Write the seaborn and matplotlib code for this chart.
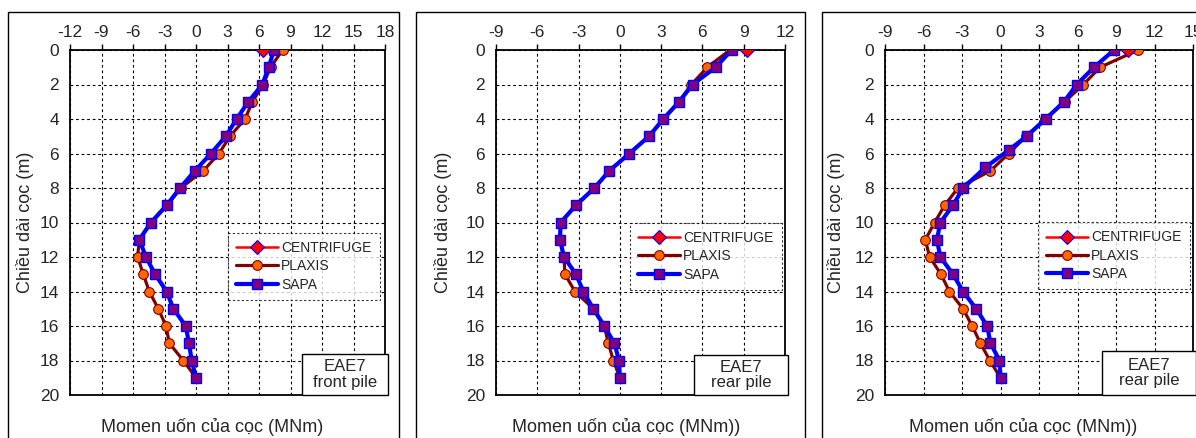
import matplotlib
matplotlib.use("Agg")
import matplotlib.pyplot as plt
from matplotlib.patches import Rectangle
import seaborn as sns
import numpy as np

# ---------------- data ----------------
depth = list(range(0, 20))
depth_sapa_p3 = [0, 1, 2, 3, 4, 5, 5.8, 6.8, 8, 9, 10, 11, 12, 13, 14, 15, 16, 17, 18, 19]
depth_centrifuge = [0]

# Panel 1 : front pile
p1_centrifuge = [6.4]
p1_plaxis = [8.25, 7.1, 6.4, 5.37, 4.67, 3.24, 2.19, 0.7, -1.45, -2.75, -4.3, -5.4,
             -5.56, -5.02, -4.45, -3.59, -2.86, -2.54, -1.21, 0.0]
p1_sapa = [7.43, 6.92, 6.32, 4.98, 3.87, 2.83, 1.43, -0.1, -1.52, -2.79, -4.29, -5.4,
           -4.76, -3.9, -2.79, -2.16, -0.98, -0.67, -0.41, 0.0]

# Panel 2 : rear pile
p2_centrifuge = [9.22]
p2_plaxis = [8.0, 6.36, 5.2, 4.3, 3.16, 2.12, 0.69, -0.76, -1.85, -3.19, -4.3, -4.35,
             -4.06, -3.99, -3.26, -1.93, -1.13, -0.84, -0.47, 0.0]
p2_sapa = [8.13, 6.96, 5.29, 4.3, 3.16, 2.12, 0.69, -0.76, -1.85, -3.19, -4.3, -4.35,
           -4.06, -3.19, -2.65, -1.93, -1.13, -0.4, -0.06, 0.0]

# Panel 3 : rear pile
p3_centrifuge = [9.95]
p3_plaxis = [10.73, 7.76, 6.46, 5.0, 3.5, 2.0, 0.65, -0.78, -3.31, -4.35, -5.13, -5.86,
             -5.52, -4.64, -3.98, -2.92, -2.21, -1.56, -0.83, 0.0]
p3_sapa = [8.85, 7.29, 5.94, 4.95, 3.52, 2.03, 0.65, -1.17, -2.92, -3.7, -4.69, -4.95,
           -4.69, -3.7, -2.92, -1.9, -1.04, -0.78, -0.08, 0.0]

x_ticks_p1 = [-12, -9, -6, -3, 0, 3, 6, 9, 12, 15, 18]
x_ticks_p2 = [-9, -6, -3, 0, 3, 6, 9, 12]
x_ticks_p3 = [-9, -6, -3, 0, 3, 6, 9, 12, 15]
y_ticks = [0, 2, 4, 6, 8, 10, 12, 14, 16, 18, 20]

series_names = ["CENTRIFUGE", "PLAXIS", "SAPA"]
ylabel = "Chiều dài cọc (m)"
xlabels = ["Momen uốn của cọc (MNm)", "Momen uốn của cọc (MNm))", "Momen uốn của cọc (MNm))"]
box_texts = ["EAE7\nfront pile", "EAE7\nrear pile", "EAE7\nrear pile"]

# ---------------- style ----------------
sns.set_style("white")
plt.rcParams["font.family"] = ["Liberation Sans", "DejaVu Sans"]
plt.rcParams["axes.unicode_minus"] = False

W, H = 1196, 438
fig = plt.figure(figsize=(W / 100, H / 100), dpi=100)

def fx(px):
    return px / W

def fy(py):
    return 1 - py / H

# axes pixel geometry: (left, right, top, bottom)
geoms = [(70, 385, 50, 395), (496, 785, 50, 395), (885, 1193, 50, 395)]
frames = [(8, 399), (416, 805), (822, 1210)]
panels = [
    (p1_centrifuge, p1_plaxis, p1_sapa, depth, x_ticks_p1, (-12, 18)),
    (p2_centrifuge, p2_plaxis, p2_sapa, depth, x_ticks_p2, (-9, 12)),
    (p3_centrifuge, p3_plaxis, p3_sapa, depth_sapa_p3, x_ticks_p3, (-9, 15)),
]
ylabel_x = [-0.114, -0.152, -0.130]
legend_anchor = [(0.502, 0.47), (0.464, 0.499), (0.497, 0.501)]
box_x0 = [0.737, 0.685, 0.705]
box_top = [0.119, 0.116, 0.128]

for i, (geom, frame, panel) in enumerate(zip(geoms, frames, panels)):
    # outer frame around the sub-chart
    fig.patches.append(Rectangle((fx(frame[0]), -0.1), fx(frame[1] - frame[0]), fy(12) + 0.1,
                                 transform=fig.transFigure, fill=False, ec="black", lw=1.0))
    l, r, t, b = geom
    ax = fig.add_axes([fx(l), fy(b), fx(r - l), (b - t) / H])
    cen, plx, sap, dsap, xt, xl = panel

    sns.lineplot(x=plx, y=depth, sort=False, estimator=None, ax=ax, color="#800000", lw=2.3,
                 marker="o", ms=7, mfc="#FF6600", mec="#800000", mew=0.8,
                 label=series_names[1], zorder=3)
    sns.lineplot(x=sap, y=dsap, sort=False, estimator=None, ax=ax, color="#0000FF", lw=3.0,
                 marker="s", ms=6.5, mfc="#800080", mec="#0000FF", mew=1.0,
                 label=series_names[2], zorder=4)
    sns.lineplot(x=cen, y=depth_centrifuge, sort=False, estimator=None, ax=ax, color="#FF0000",
                 lw=1.8, marker="D", ms=7, mfc="#FF0000", mec="#0000FF", mew=0.8,
                 label=series_names[0], zorder=5)

    ax.set_xlim(*xl)
    ax.set_ylim(20, 0)
    ax.set_xticks(xt)
    ax.set_yticks(y_ticks)
    ax.xaxis.tick_top()
    ax.tick_params(axis="both", direction="out", length=4, width=1, color="black",
                   labelsize=12.5, pad=4)
    ax.tick_params(axis="x", pad=3)
    ax.grid(True, color="black", linestyle=(0, (2.5, 2.5)), lw=0.8)
    for s in ax.spines.values():
        s.set_color("black")
        s.set_linewidth(1.3)
        s.set_visible(True)

    ax.set_ylabel(ylabel, fontsize=13)
    ax.yaxis.set_label_coords(ylabel_x[i], 0.5)
    ax.set_xlabel("")
    ax.text(0.45, -0.093, xlabels[i], transform=ax.transAxes, ha="center", va="center",
            fontsize=13)

    # legend
    h, lab = ax.get_legend_handles_labels()
    order = [lab.index(n) for n in series_names]
    leg = ax.legend([h[k] for k in order], [lab[k] for k in order], loc="upper left",
                    bbox_to_anchor=legend_anchor[i], borderaxespad=0, frameon=True,
                    fancybox=False, fontsize=10, handlelength=3.0, handletextpad=0.2,
                    labelspacing=0.3, borderpad=0.6)
    fr = leg.get_frame()
    fr.set_edgecolor("black")
    fr.set_linestyle((0, (2, 2)))
    fr.set_linewidth(0.8)
    leg.set_zorder(10)
    leg.set_clip_on(False)

    # label box
    ax.add_patch(Rectangle((box_x0[i], 0), 1.01 - box_x0[i], box_top[i], transform=ax.transAxes,
                           fc="white", ec="black", lw=1.0, zorder=11, clip_on=False))
    ax.text((box_x0[i] + 1.01) / 2, box_top[i] / 2, box_texts[i], transform=ax.transAxes,
            ha="center", va="center", fontsize=12, linespacing=1.05, zorder=12)

fig.savefig("out.png", dpi=100)
